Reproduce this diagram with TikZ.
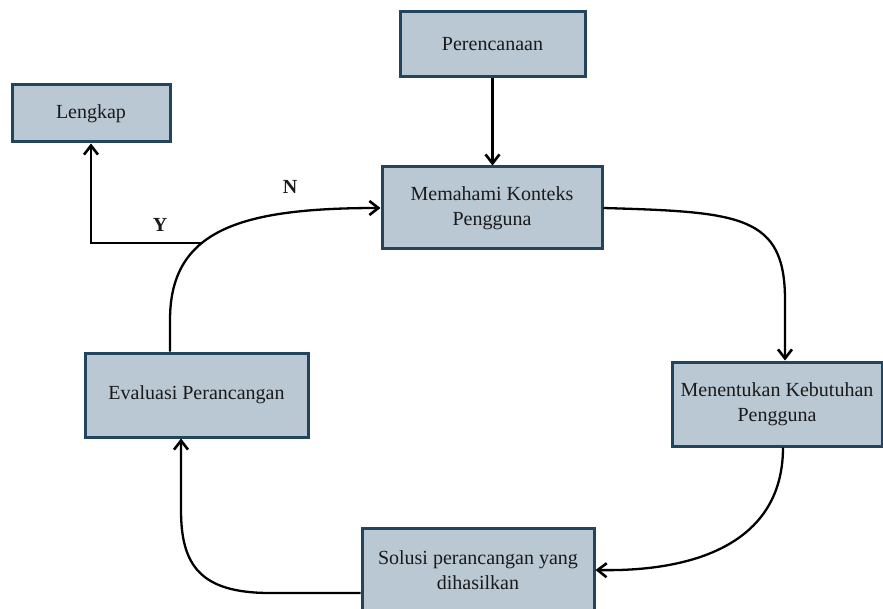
\documentclass[tikz,border=0pt]{standalone}
\usepackage{fontspec}
\setmainfont{Liberation Serif}
\usetikzlibrary{arrows.meta,calc}
\definecolor{boxfill}{HTML}{BAC8D3}
\definecolor{boxline}{HTML}{23445D}
\definecolor{txt}{HTML}{1A1A1A}
\begin{document}
\begin{tikzpicture}[x=0.5pt,y=-0.5pt,
  box/.style={draw=boxline, fill=boxfill, line width=1.5pt, align=center,
    font=\fontsize{10}{12.5}\selectfont, text=txt, inner sep=0pt},
  conn/.style={line width=1.15pt, -{Straight Barb[length=4.5pt,width=7pt,line width=1.3pt]}},
  lab/.style={font=\fontsize{10}{12}\selectfont\bfseries, text=txt}]
\path[use as bounding box] (0,0) rectangle (883,609);
\clip (0,0) rectangle (883,609);

\node[box, minimum width=185*0.5pt, minimum height=65*0.5pt] (per) at (492.5,44.5) {Perencanaan};
\node[box, minimum width=220*0.5pt, minimum height=82*0.5pt] (mem) at (492,208) {Memahami Konteks\\Pengguna};
\node[box, minimum width=158*0.5pt, minimum height=57*0.5pt] (len) at (91,113.5) {Lengkap};
\node[box, minimum width=223*0.5pt, minimum height=84*0.5pt] (eva) at (196.5,395) {Evaluasi Perancangan};
\node[box, minimum width=210*0.5pt, minimum height=84*0.5pt] (men) at (777,404) {Menentukan Kebutuhan\\Pengguna};
\node[box, minimum width=232*0.5pt, minimum height=84*0.5pt] (sol) at (478,570) {Solusi perancangan yang\\dihasilkan};

\draw[conn] (per.south) -- (per.south |- mem.north);
\draw[conn] (mem.east) .. controls (740,212) and (785,215) .. (785,300) -- ($(men.north)+(8,0)$);
\draw[conn] ($(men.south)+(6,0)$) .. controls (783,540) and (700,572) .. (sol.east);
\draw[conn] ($(sol.west)+(0,23)$) -- (270,593) .. controls (200,593) and (181,565) .. (181,510) -- ($(eva.south)+(-15.5,0)$);
\draw[conn] ($(eva.north)+(-26.5,0)$) -- (170,320) .. controls (170,230) and (240,208) .. (mem.west);
\coordinate (j) at (203,243);
\draw[conn] (j) -- (j -| len.south) -- (len.south);

\node[lab] (nlab) at (290,187) {N};
\node[lab] (ylab) at (160,225) {Y};
\end{tikzpicture}
\end{document}
